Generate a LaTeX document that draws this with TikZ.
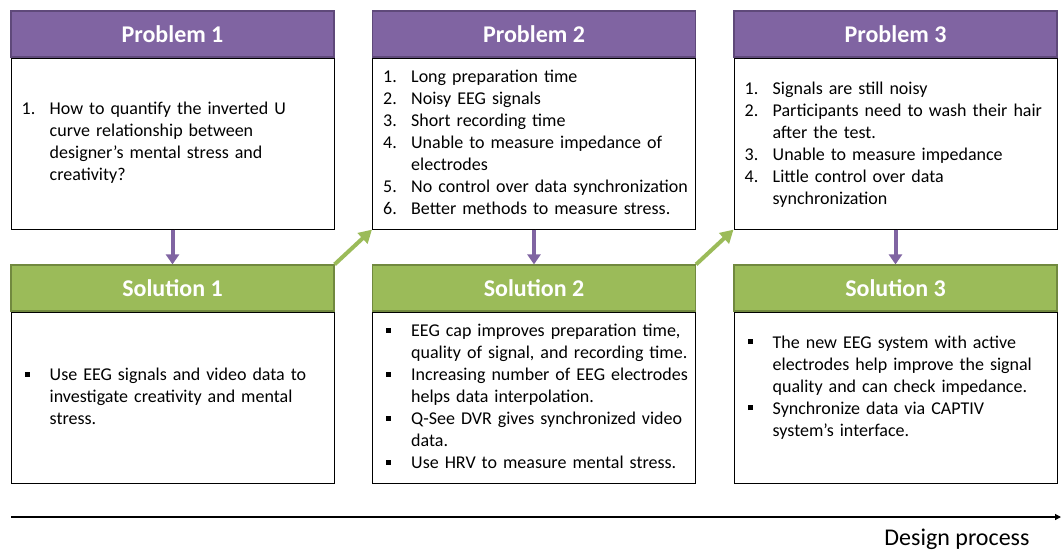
\documentclass[tikz,border=0pt]{standalone}
\usepackage{fontspec}
\setmainfont{Carlito}
\usepackage{tikz}
\usepackage{xcolor}
\usetikzlibrary{arrows.meta, positioning}
\definecolor{ProbPurple}{HTML}{8064A2}
\definecolor{ProbPurpleDark}{HTML}{5F497A}
\definecolor{SolGreen}{HTML}{9BBB59}
\definecolor{SolGreenDark}{HTML}{71893F}
% list lines with hanging indent
\newcommand{\listitem}[2]{\par\hangindent=28pt\hangafter=1\noindent\makebox[28pt][l]{#1}#2\par}
\newcommand{\sqbullet}{\hspace{3pt}\rule[0.22em]{5pt}{5pt}}
\tikzset{
    % Header styles
    probhead/.style={
        rectangle,
        draw=ProbPurpleDark,
        fill=ProbPurple,
        line width=1.2pt,
        minimum width=323pt,
        minimum height=46pt,
        text=white,
        font=\fontsize{24}{28}\selectfont\bfseries
    },
    solhead/.style={
        rectangle,
        draw=SolGreenDark,
        fill=SolGreen,
        line width=1.2pt,
        minimum width=323pt,
        minimum height=46pt,
        text=white,
        font=\fontsize{24}{28}\selectfont\bfseries
    },
    % Body styles
    bodybox/.style={
        rectangle,
        draw=black,
        fill=white,
        line width=1pt,
        minimum width=323pt,
        minimum height=171pt
    },
    bodytext/.style={
        anchor=west,
        inner sep=0pt,
        text width=310pt,
        align=left,
        font=\fontsize{18}{22}\selectfont
    },
    % Arrow styles
    downarrow/.style={
        -{Triangle[length=10pt,width=13pt]},
        line width=4pt,
        ProbPurple
    },
    nextarrow/.style={
        -{Triangle[length=13pt,width=14pt]},
        line width=4pt,
        SolGreen
    },
    timeline/.style={
        -{Triangle[length=6pt,width=6pt]},
        line width=1.2pt,
        black
    }
}
\begin{document}
\begin{tikzpicture}[x=1pt,y=-1pt]
    \useasboundingbox (0,0) rectangle (1061,550);

    % Problems
    \node[probhead] (p1) at (172.5,34) {Problem 1};
    \node[probhead] (p2) at (534,34) {Problem 2};
    \node[probhead] (p3) at (895.5,34) {Problem 3};
    \node[bodybox,below=0pt of p1] (p1body) {};
    \node[bodybox,below=0pt of p2] (p2body) {};
    \node[bodybox,below=0pt of p3] (p3body) {};

    \node[bodytext] (p1text) at ([xshift=11pt,yshift=6pt]p1body.west) {%
        \listitem{1.}{How to quantify the inverted U\newline curve relationship between\newline designer’s mental stress and\newline creativity?}};
    \node[bodytext] (p2text) at ([xshift=11pt,yshift=6pt]p2body.west) {%
        \listitem{1.}{Long preparation time}
        \listitem{2.}{Noisy EEG signals}
        \listitem{3.}{Short recording time}
        \listitem{4.}{Unable to measure impedance of\newline electrodes}
        \listitem{5.}{No control over data synchronization}
        \listitem{6.}{Better methods to measure stress.}};
    \node[bodytext] (p3text) at ([xshift=11pt,yshift=4pt]p3body.west) {%
        \listitem{1.}{Signals are still noisy}
        \listitem{2.}{Participants need to wash their hair\newline after the test.}
        \listitem{3.}{Unable to measure impedance}
        \listitem{4.}{Little control over data\newline synchronization}};

    % Solutions
    \node[solhead] (s1) at (172.5,288) {Solution 1};
    \node[solhead] (s2) at (534,288) {Solution 2};
    \node[solhead] (s3) at (895.5,288) {Solution 3};
    \node[bodybox,below=0pt of s1] (s1body) {};
    \node[bodybox,below=0pt of s2] (s2body) {};
    \node[bodybox,below=0pt of s3] (s3body) {};

    \node[bodytext] (s1text) at ([xshift=11pt,yshift=6pt]s1body.west) {%
        \listitem{\sqbullet}{Use EEG signals and video data to\newline investigate creativity and mental\newline stress.}};
    \node[bodytext] (s2text) at ([xshift=11pt,yshift=6pt]s2body.west) {%
        \listitem{\sqbullet}{EEG cap improves preparation time,\newline quality of signal, and recording time.}
        \listitem{\sqbullet}{Increasing number of EEG electrodes\newline helps data interpolation.}
        \listitem{\sqbullet}{Q-See DVR gives synchronized video\newline data.}
        \listitem{\sqbullet}{Use HRV to measure mental stress.}};
    \node[bodytext] (s3text) at ([xshift=11pt,yshift=15pt]s3body.west) {%
        \listitem{\sqbullet}{The new EEG system with active\newline electrodes help improve the signal\newline quality and can check impedance.}
        \listitem{\sqbullet}{Synchronize data via CAPTIV\newline system’s interface.}};

    % Connectors
    \draw[downarrow] (p1body.south) -- (s1.north);
    \draw[downarrow] (p2body.south) -- (s2.north);
    \draw[downarrow] (p3body.south) -- (s3.north);
    \draw[nextarrow] (s1.north east) -- (p2body.south west);
    \draw[nextarrow] (s2.north east) -- (p3body.south west);

    % Timeline
    \coordinate (tstart) at (11,517);
    \coordinate (tend) at (1061,517);
    \draw[timeline] (tstart) -- (tend);
    \node[font=\fontsize{24}{28}\selectfont] (tlabel) at (957,539) {Design process};
\end{tikzpicture}
\end{document}
